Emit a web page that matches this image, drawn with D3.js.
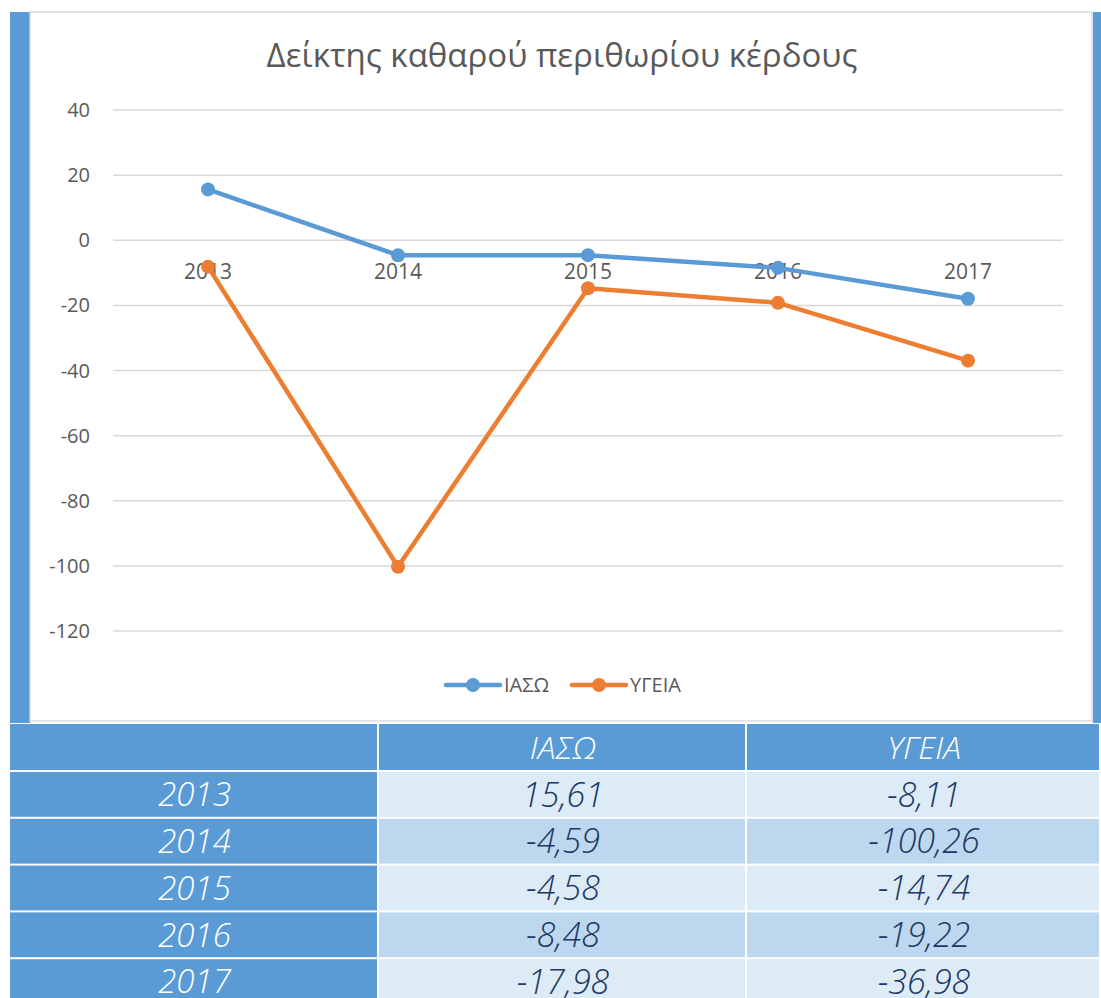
<!DOCTYPE html>
<html>
  <head>
    <title>net-margin</title>
    <style>
      html,
      body {
        padding: 0;
        margin: 0;
        background: #fff;
        font-family: 'Open Sans', 'Noto Sans', sans-serif;
      }
      svg {
        display: block;
      }
    </style>
  </head>
  <body>
    <svg width="1101" height="998"></svg>

    <script src="https://cdn.jsdelivr.net/npm/d3@7/dist/d3.min.js"></script>
    <script>
      // data
      const years = ['2013', '2014', '2015', '2016', '2017'];
      const seriesNames = ['ΙΑΣΩ', 'ΥΓΕΙΑ'];
      const iaso = [15.61, -4.59, -4.58, -8.48, -17.98];
      const ygeia = [-8.11, -100.26, -14.74, -19.22, -36.98];
      const yTicks = [40, 20, 0, -20, -40, -60, -80, -100, -120];
      const title = 'Δείκτης καθαρού περιθωρίου κέρδους';
    </script>
    <script>
      const svg = d3.select('svg');
      const colors = ['#5b9bd5', '#ed7d31'];
      const series = [iaso, ygeia];
      const textGrey = '#595959';

      // blue side strips + chart box
      svg.append('rect').attr('x', 10).attr('y', 12).attr('width', 20).attr('height', 711).attr('fill', '#5b9bd5');
      svg.append('rect').attr('x', 1093).attr('y', 12).attr('width', 8).attr('height', 711).attr('fill', '#5b9bd5');
      svg
        .append('rect')
        .attr('x', 30)
        .attr('y', 12)
        .attr('width', 1062)
        .attr('height', 709)
        .attr('fill', '#fff')
        .attr('stroke', '#d9d9d9')
        .attr('stroke-width', 1.5);

      // title
      svg
        .append('text')
        .attr('x', 562)
        .attr('y', 67)
        .attr('text-anchor', 'middle')
        .attr('fill', textGrey)
        .style('font-size', '33px')
        .text(title);

      const x = d3.scalePoint().domain(years).range([208, 968]);
      const y = d3.scaleLinear().domain([-120, 40]).range([631, 110]);

      // gridlines
      svg
        .append('g')
        .selectAll('line')
        .data(yTicks)
        .join('line')
        .attr('x1', 113)
        .attr('x2', 1063)
        .attr('y1', (d) => y(d))
        .attr('y2', (d) => y(d))
        .attr('stroke', '#d9d9d9')
        .attr('stroke-width', 1.5);

      // y labels
      svg
        .append('g')
        .selectAll('text')
        .data(yTicks)
        .join('text')
        .attr('x', 90)
        .attr('y', (d) => y(d))
        .attr('dy', '0.35em')
        .attr('text-anchor', 'end')
        .attr('fill', textGrey)
        .style('font-size', '20px')
        .text((d) => d);

      // category labels (sit just below zero line)
      svg
        .append('g')
        .selectAll('text')
        .data(years)
        .join('text')
        .attr('x', (d) => x(d))
        .attr('y', y(0) + 39)
        .attr('text-anchor', 'middle')
        .attr('fill', textGrey)
        .style('font-size', '21px')
        .text((d) => d);

      // lines + markers
      const line = d3
        .line()
        .x((d, i) => x(years[i]))
        .y((d) => y(d));

      series.forEach((vals, s) => {
        const g = svg.append('g');
        g.append('path')
          .attr('d', line(vals))
          .attr('fill', 'none')
          .attr('stroke', colors[s])
          .attr('stroke-width', 4.5)
          .attr('stroke-linejoin', 'round')
          .attr('stroke-linecap', 'round');
        g.selectAll('circle')
          .data(vals)
          .join('circle')
          .attr('cx', (d, i) => x(years[i]))
          .attr('cy', (d) => y(d))
          .attr('r', 7)
          .attr('fill', colors[s]);
      });

      // legend
      const legendX = [446, 572];
      seriesNames.forEach((name, s) => {
        const g = svg.append('g').attr('transform', `translate(${legendX[s]},685)`);
        g.append('line')
          .attr('x1', 0)
          .attr('x2', 54)
          .attr('stroke', colors[s])
          .attr('stroke-width', 4.5)
          .attr('stroke-linecap', 'round');
        g.append('circle').attr('cx', 27).attr('r', 7).attr('fill', colors[s]);
        g.append('text')
          .attr('x', 58)
          .attr('dy', '0.35em')
          .attr('fill', textGrey)
          .style('font-size', '20px')
          .text(name);
      });

      // table
      const colX = [10, 379, 747, 1101];
      const rowTop = 724;
      const headH = 46;
      const rowH = 46.8;
      const tbl = svg.append('g');

      // header
      const headers = [''].concat(seriesNames);
      headers.forEach((h, c) => {
        tbl.append('rect')
          .attr('x', colX[c])
          .attr('y', rowTop)
          .attr('width', colX[c + 1] - colX[c] - 2)
          .attr('height', headH)
          .attr('fill', '#5b9bd5');
        tbl.append('text')
          .attr('x', (colX[c] + colX[c + 1]) / 2)
          .attr('y', rowTop + headH / 2)
          .attr('dy', '0.36em')
          .attr('text-anchor', 'middle')
          .attr('fill', '#fff')
          .style('font-style', 'italic')
          .style('font-weight', 300)
          .style('font-size', '32px')
          .text(h);
      });

      const fmt = (v) => v.toFixed(2).replace('.', ',');
      years.forEach((yr, r) => {
        const top = rowTop + headH + 2 + r * rowH;
        const cells = [yr, fmt(iaso[r]), fmt(ygeia[r])];
        cells.forEach((t, c) => {
          tbl.append('rect')
            .attr('x', colX[c])
            .attr('y', top)
            .attr('width', colX[c + 1] - colX[c] - 2)
            .attr('height', rowH - 2)
            .attr('fill', c === 0 ? '#5b9bd5' : r % 2 === 0 ? '#ddebf7' : '#bdd7ee');
          tbl.append('text')
            .attr('x', (colX[c] + colX[c + 1]) / 2)
            .attr('y', top + (rowH - 2) / 2)
            .attr('dy', '0.36em')
            .attr('text-anchor', 'middle')
            .attr('fill', c === 0 ? '#fff' : '#203864')
            .style('font-style', 'italic')
            .style('font-weight', 300)
            .style('font-size', c === 0 ? '33px' : '34px')
            .text(t);
        });
      });
    </script>
  </body>
</html>
